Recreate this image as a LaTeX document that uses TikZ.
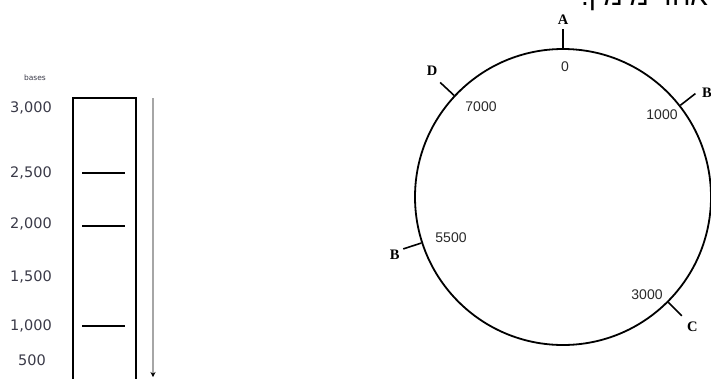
\documentclass[tikz,border=0pt]{standalone}
\usepackage{fontspec}
\usetikzlibrary{calc,arrows.meta}
\TeXXeTstate=1
\newfontfamily\hebfont[Script=Hebrew]{Liberation Sans}
\newfontfamily\scalefont{DejaVu Sans}
\newfontfamily\ringfont{Liberation Sans}
\newfontfamily\letterfont{Liberation Serif}
\definecolor{labelgray}{HTML}{3A3A48}
\definecolor{ringnum}{HTML}{2A2A2A}
\tikzset{
  scalelabel/.style={font=\scalefont\fontsize{14.5}{16}\selectfont, text=labelgray, inner sep=0pt},
  ringlabel/.style={font=\ringfont\fontsize{14}{16}\selectfont, text=ringnum, inner sep=0pt},
  siteletter/.style={font=\letterfont\bfseries\fontsize{14.5}{16}\selectfont, inner sep=0pt},
  sitetick/.style={line width=1.6pt},
  band/.style={line width=2pt},
  gelwall/.style={line width=2.6pt}
}
\begin{document}
\begin{tikzpicture}[x=1pt,y=-1pt]
\clip (0,0) rectangle (711,378);
\fill[white] (0,0) rectangle (711,378);

% Hebrew text cut off at top
\node[font=\hebfont\fontsize{28}{30}\selectfont, anchor=base west, inner sep=0pt] (heb) at (581,5) {\beginR אחד מימין.\endR};

% ---- gel ----
\node[font=\scalefont\fontsize{7.5}{8}\selectfont, text=labelgray, inner sep=0pt] (bases) at (35,78) {bases};
\node[scalelabel] (l3000) at (31,108) {3,000};
\node[scalelabel] (l2500) at (31,173) {2,500};
\node[scalelabel] (l2000) at (31,224) {2,000};
\node[scalelabel] (l1500) at (31,277) {1,500};
\node[scalelabel] (l1000) at (31,326) {1,000};
\node[scalelabel] (l500) at (32,360) {500};

\coordinate (gbl) at (73,390);
\coordinate (gtl) at (73,98);
\coordinate (gtr) at (136,98);
\coordinate (gbr) at (136,390);
\draw[gelwall] (gbl) -- (gtl) -- (gtr) -- (gbr);

\coordinate (b1a) at (82,173); \coordinate (b1b) at (125,173);
\coordinate (b2a) at (82,226); \coordinate (b2b) at (125,226);
\coordinate (b3a) at (82,326); \coordinate (b3b) at (125,326);
\draw[band] (b1a) -- (b1b);
\draw[band] (b2a) -- (b2b);
\draw[band] (b3a) -- (b3b);

\coordinate (arrtop) at (153,98);
\coordinate (arrbot) at (153,377);
\draw[gray!70, line width=1.2pt, -{Stealth[length=5pt,width=5pt,color=black]}] (arrtop) -- (arrbot);

% ---- plasmid ring ----
\node[draw, circle, minimum size=296pt, inner sep=0pt, line width=1.8pt] (ring) at (563,197) {};

\coordinate (tA) at ($(ring.center)+(90:168pt)$);
\coordinate (tD) at ($(ring.center)+(137:168pt)$);
\coordinate (tB1) at ($(ring.center)+(38:168pt)$);
\coordinate (tB2) at ($(ring.center)+(198:168pt)$);
\coordinate (tC) at ($(ring.center)+(-45:168pt)$);
\draw[sitetick] (ring.90) -- (tA);
\draw[sitetick] (ring.137) -- (tD);
\draw[sitetick] (ring.38) -- (tB1);
\draw[sitetick] (ring.198) -- (tB2);
\draw[sitetick] (ring.-45) -- (tC);

\node[siteletter] (sA) at ($(ring.center)+(90:177pt)$) {A};
\node[siteletter] (sD) at ($(ring.center)+(136:182pt)$) {D};
\node[siteletter] (sB1) at ($(ring.center)+(36:178pt)$) {B};
\node[siteletter] (sB2) at ($(ring.center)+(199:178pt)$) {B};
\node[siteletter] (sC) at ($(ring.center)+(-45:183pt)$) {C};

\node[ringlabel] (n0) at (565,67) {0};
\node[ringlabel] (n7000) at (481,107) {7000};
\node[ringlabel] (n1000) at (662,115) {1000};
\node[ringlabel] (n5500) at (451,238) {5500};
\node[ringlabel] (n3000) at (647,295) {3000};
\end{tikzpicture}
\end{document}
